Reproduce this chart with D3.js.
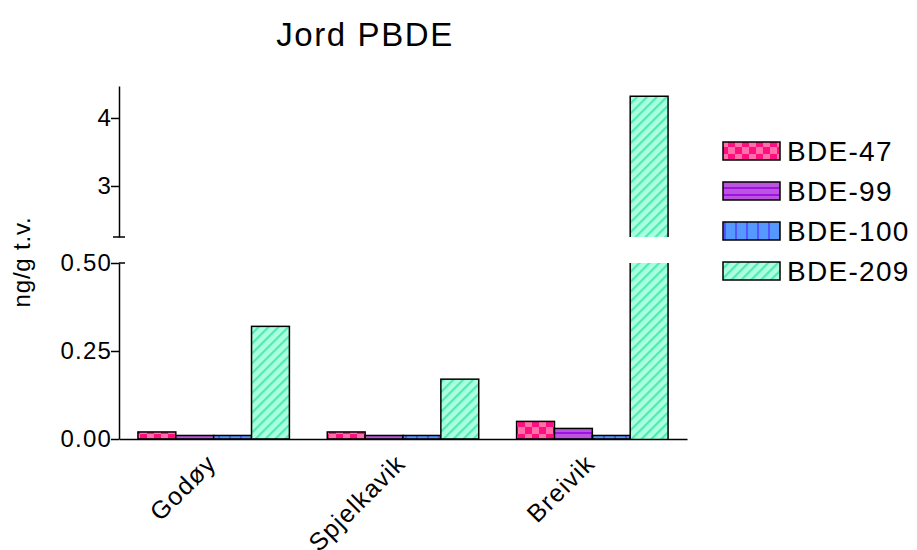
<!DOCTYPE html>
<html><head><meta charset="utf-8">
<script src="https://cdn.jsdelivr.net/npm/d3@7"></script>
<style>body{margin:0;background:#fff}svg{display:block}text{font-family:"Liberation Sans",Arial,sans-serif;fill:#000}</style>
</head><body>
<svg id="c" width="917" height="550"></svg>
<script>
const categories = ["Godøy", "Spjelkavik", "Breivik"];
const seriesNames = ["BDE-47", "BDE-99", "BDE-100", "BDE-209"];
const bde47 = [0.02, 0.02, 0.05];
const bde99 = [0.01, 0.01, 0.03];
const bde100 = [0.01, 0.01, 0.01];
const bde209 = [0.32, 0.17, 4.32];
const lowTicks = [0, 0.25, 0.5];
const highTicks = [3, 4];

const seriesValues = [bde47, bde99, bde100, bde209];
const patIds = ["pChk", "pHor", "pVer", "pDia"];

const svg = d3.select("#c");
const defs = svg.append("defs");
// patterns
let p = defs.append("pattern").attr("id","pChk").attr("patternUnits","userSpaceOnUse").attr("width",14).attr("height",14);
p.append("rect").attr("width",14).attr("height",14).attr("fill","#ff70a8");
p.append("rect").attr("width",7).attr("height",7).attr("fill","#ff0f80");
p.append("rect").attr("x",7).attr("y",7).attr("width",7).attr("height",7).attr("fill","#ff0f80");
p = defs.append("pattern").attr("id","pHor").attr("patternUnits","userSpaceOnUse").attr("width",10).attr("height",7);
p.append("rect").attr("width",10).attr("height",7).attr("fill","#bb55dd");
p.append("rect").attr("y",5).attr("width",10).attr("height",2).attr("fill","#a011e6");
p = defs.append("pattern").attr("id","pVer").attr("patternUnits","userSpaceOnUse").attr("width",11).attr("height",10);
p.append("rect").attr("width",11).attr("height",10).attr("fill","#5599ff");
p.append("rect").attr("x",9).attr("width",2).attr("height",10).attr("fill","#5555ff");
p = defs.append("pattern").attr("id","pDia").attr("patternUnits","userSpaceOnUse").attr("width",7).attr("height",7).attr("patternTransform","rotate(45)");
p.append("rect").attr("width",7).attr("height",7).attr("fill","#aaffdd");
p.append("rect").attr("width",2.2).attr("height",7).attr("fill","#50eab8");

const x0 = 119, x1 = 687, yBase = 439;
const x = d3.scaleBand().domain(categories).range([x0, x1]).paddingInner(0.2).paddingOuter(0.1);
const xs = d3.scaleBand().domain(seriesNames).range([0, x.bandwidth()]);
const yLow = d3.scaleLinear().domain([0, 0.5]).range([yBase, 263]);
const yHigh = d3.scaleLinear().domain([2.25, 4.47]).range([237, 86]);

const data = [];
categories.forEach((c, i) => seriesNames.forEach((s, j) => data.push({c, s, j, v: seriesValues[j][i]})));

const g = svg.append("g");
data.forEach(d => {
  const bx = x(d.c) + xs(d.s), bw = xs.bandwidth();
  if (d.v <= 0.5) {
    g.append("rect").attr("x", bx).attr("y", yLow(d.v)).attr("width", bw).attr("height", yBase - yLow(d.v))
      .attr("fill", `url(#${patIds[d.j]})`).attr("stroke", "#000").attr("stroke-width", 1.5);
  } else {
    g.append("rect").attr("x", bx).attr("y", yLow(0.5)).attr("width", bw).attr("height", yBase - yLow(0.5))
      .attr("fill", `url(#${patIds[d.j]})`);
    g.append("path").attr("d", `M${bx},${yLow(0.5)}V${yBase}M${bx+bw},${yLow(0.5)}V${yBase}`)
      .attr("stroke", "#000").attr("stroke-width", 1.5).attr("fill","none");
    const top = yHigh(d.v), bot = yHigh(2.25);
    g.append("rect").attr("x", bx).attr("y", top).attr("width", bw).attr("height", bot - top)
      .attr("fill", `url(#${patIds[d.j]})`);
    g.append("path").attr("d", `M${bx},${bot}V${top}H${bx+bw}V${bot}`)
      .attr("stroke", "#000").attr("stroke-width", 1.5).attr("fill","none");
  }
});

// axes
const aLow = svg.append("g").attr("transform", `translate(${x0},0)`)
  .call(d3.axisLeft(yLow).tickValues(lowTicks).tickFormat(d3.format(".2f")).tickSize(8).tickSizeOuter(0));
const aHigh = svg.append("g").attr("transform", `translate(${x0},0)`)
  .call(d3.axisLeft(yHigh).tickValues(highTicks).tickFormat(d3.format("d")).tickSize(8).tickSizeOuter(0));
[aLow, aHigh].forEach(a => {
  a.select(".domain").attr("stroke", "#000").attr("stroke-width", 1.5);
  a.selectAll(".tick line").attr("stroke", "#000").attr("stroke-width", 1.5);
  a.selectAll(".tick text").attr("font-size", 24).attr("letter-spacing", 1.2)
    .attr("font-family", "Liberation Sans, Arial, sans-serif").attr("x", -7).attr("fill","#000");
});
svg.append("path").attr("d", `M${x0-6},${yHigh(2.25)}H${x0+6}M${x0},${yLow(0.5)}H${x0+6}`)
  .attr("stroke", "#000").attr("stroke-width", 1.5);

// x axis
const ax = svg.append("g").attr("transform", `translate(0,${yBase})`)
  .call(d3.axisBottom(x).tickSize(0).tickSizeOuter(0));
ax.select(".domain").attr("stroke", "#000").attr("stroke-width", 1.5);
ax.selectAll(".tick text").attr("font-size", 25).attr("letter-spacing", 1.2)
  .attr("font-family", "Liberation Sans, Arial, sans-serif")
  .attr("text-anchor", "end").attr("y", 0).attr("dy", 0)
  .attr("transform", "translate(4,26) rotate(-45)").attr("fill","#000");

// title
svg.append("text").attr("x", 365).attr("y", 46).attr("text-anchor", "middle").attr("font-size", 33).attr("letter-spacing", 1.6).text("Jord PBDE");
// y label
svg.append("text").attr("transform", "translate(30,262) rotate(-90)").attr("text-anchor", "middle").attr("font-size", 24).attr("letter-spacing", 0.8).text("ng/g t.v.");

// legend
const lg = svg.append("g");
seriesNames.forEach((s, j) => {
  const yy = 142 + j * 40;
  lg.append("rect").attr("x", 723).attr("y", yy).attr("width", 57).attr("height", 18)
    .attr("fill", `url(#${patIds[j]})`).attr("stroke", "#000").attr("stroke-width", 1.5);
  lg.append("text").attr("x", 787).attr("y", yy + 19).attr("font-size", 28).attr("letter-spacing", 1.3).text(s);
});
</script>
</body></html>
